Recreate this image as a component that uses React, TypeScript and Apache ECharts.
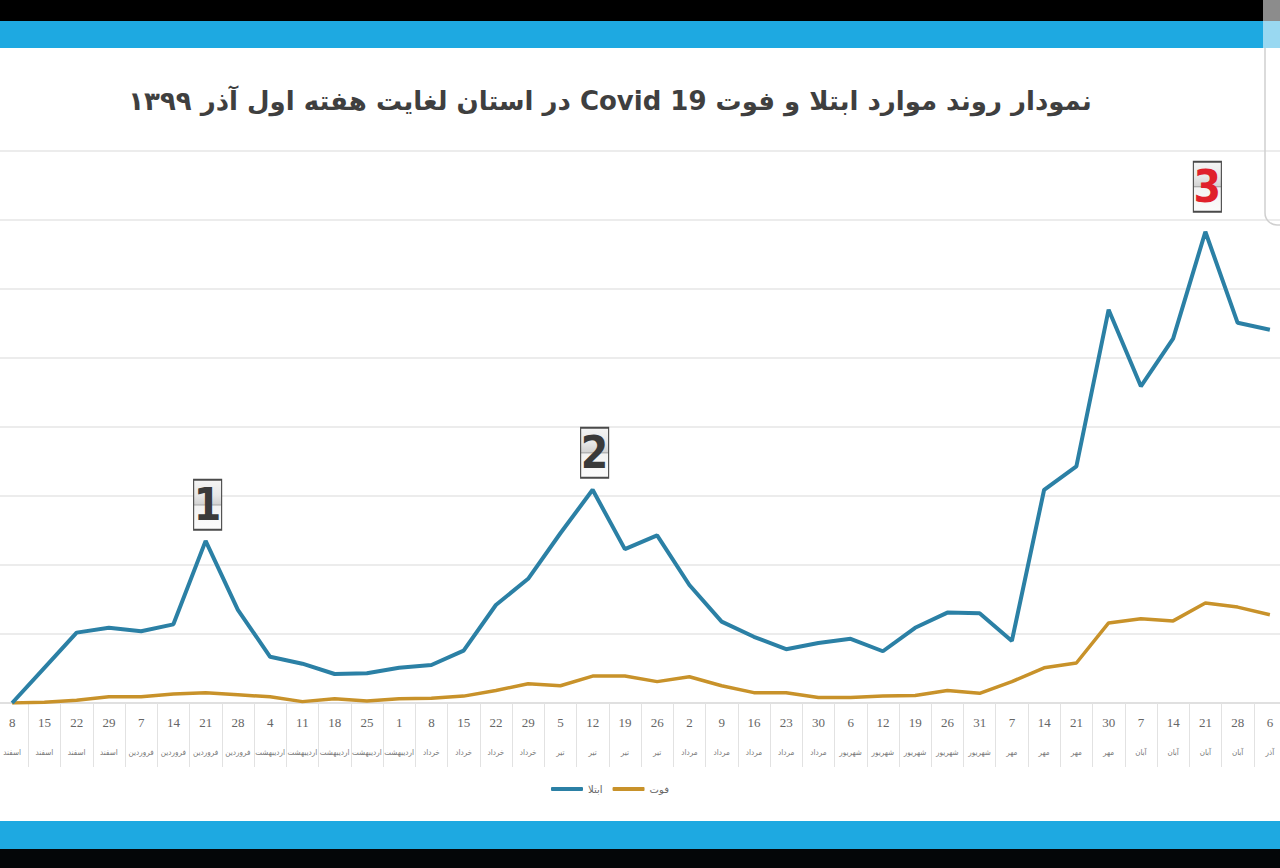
import React, { useEffect, useRef } from "react";
import * as echarts from "echarts";

const days = [8, 15, 22, 29, 7, 14, 21, 28, 4, 11, 18, 25, 1, 8, 15, 22, 29, 5, 12, 19, 26, 2, 9, 16, 23, 30, 6, 12, 19, 26, 31, 7, 14, 21, 30, 7, 14, 21, 28, 6];
const months = [
  "اسفند", "اسفند", "اسفند", "اسفند",
  "فروردین", "فروردین", "فروردین", "فروردین",
  "اردیبهشت", "اردیبهشت", "اردیبهشت", "اردیبهشت", "اردیبهشت",
  "خرداد", "خرداد", "خرداد", "خرداد",
  "تیر", "تیر", "تیر", "تیر",
  "مرداد", "مرداد", "مرداد", "مرداد", "مرداد",
  "شهریور", "شهریور", "شهریور", "شهریور", "شهریور",
  "مهر", "مهر", "مهر", "مهر",
  "آبان", "آبان", "آبان", "آبان",
  "آذر",
];
const infected = [0, 51, 102, 109, 104, 114, 235, 135, 67, 57, 42, 43, 51, 55, 76, 142, 180, 246, 309, 223, 243, 171, 118, 96, 78, 87, 93, 75, 109, 131, 130, 90, 309, 343, 570, 459, 528, 683, 551, 541];
const deaths = [0, 1, 4, 9, 9, 13, 15, 12, 9, 2, 6, 3, 6, 7, 10, 18, 28, 25, 39, 39, 31, 38, 25, 15, 15, 8, 8, 10, 11, 18, 14, 31, 51, 58, 116, 122, 119, 145, 139, 128];
const peakIndex = [6, 18, 37];
const peakLabels = ["1", "2", "3"];
const seriesNames = ["ابتلا", "فوت"];
const titleText = "نمودار روند موارد ابتلا و فوت Covid 19 در استان لغایت هفته اول آذر ۱۳۹۹";

export default function App() {
  const ref = useRef<HTMLDivElement>(null);
  useEffect(() => {
    if (!ref.current) return;
    const chart = echarts.init(ref.current, null, { renderer: "svg" });
    const categories = days.map((d, i) => `${d} ${months[i]}`);
    const boxFill = {
      type: "linear", x: 0, y: 0, x2: 0, y2: 1,
      colorStops: [
        { offset: 0, color: "#f5f5f5" },
        { offset: 0.3, color: "#e8e8e8" },
        { offset: 0.49, color: "#d2d2d2" },
        { offset: 0.5, color: "#8a8a8a" },
        { offset: 0.52, color: "#f2f2f2" },
        { offset: 1, color: "#fbfbfb" },
      ],
    };
    const offsets = [[2, -36], [2, -37], [2, -45]];
    const markData = peakIndex.map((idx, k) => ({
      coord: [categories[idx], infected[idx]],
      value: peakLabels[k],
      symbol: "rect",
      symbolSize: [28, 50],
      symbolOffset: offsets[k],
      itemStyle: { color: boxFill, borderColor: "#4a4a4a", borderWidth: 1.5 },
      label: {
        show: true,
        position: "inside",
        formatter: peakLabels[k],
        fontSize: 44,
        fontWeight: "bold",
        fontFamily: "DejaVu Sans Condensed",
        color: k === 2 ? "#e0202b" : "#3a3a3a",
      },
    }));
    chart.setOption({
      animation: false,
      backgroundColor: "#ffffff",
      graphic: [
        { type: "rect", shape: { x: 0, y: 0, width: 1280, height: 21 }, style: { fill: "#000000" }, z: 100 },
        { type: "rect", shape: { x: 0, y: 21, width: 1280, height: 27 }, style: { fill: "#1ea9e1" }, z: 100 },
        { type: "rect", shape: { x: 0, y: 821, width: 1280, height: 28 }, style: { fill: "#1ea9e1" }, z: 100 },
        { type: "rect", shape: { x: 0, y: 849, width: 1280, height: 19 }, style: { fill: "#040608" }, z: 100 },
        { type: "rect", shape: { x: 1263, y: 0, width: 17, height: 48 }, style: { fill: "rgba(255,255,255,0.55)" }, z: 101 },
        { type: "rect", shape: { x: 1265, y: 30, width: 40, height: 195, r: 12 }, style: { fill: "none", stroke: "#cfcfcf", lineWidth: 1.5 }, z: 99 },
        {
          type: "text",
          x: 610,
          y: 101,
          style: {
            text: "\u202B" + titleText + "\u202C",
            fontSize: 26,
            fontWeight: "bold",
            fontFamily: "DejaVu Sans",
            fill: "#3f3f3f",
            align: "center",
            verticalAlign: "middle",
          },
        },
      ],
      legend: {
        data: seriesNames,
        left: 546,
        top: 779,
        icon: "roundRect",
        itemWidth: 32,
        itemHeight: 4,
        itemGap: 10,
        textStyle: { fontSize: 10, color: "#666", fontFamily: "DejaVu Sans" },
      },
      grid: { left: -4, right: -6, top: 151, bottom: 165, outerBoundsMode: "none", containLabel: false },
      xAxis: {
        type: "category",
        data: categories,
        boundaryGap: true,
        axisLine: { show: true, lineStyle: { color: "#dcdcdc", width: 1.5 } },
        axisTick: { show: true, length: 64, interval: 0, lineStyle: { color: "#e2e2e2", width: 1 } },
        axisLabel: {
          interval: 0,
          margin: 6,
          hideOverlap: false,
          formatter: (_v: string, i: number) => `{d|${days[i]}}\n{m|${months[i]}}`,
          rich: {
            d: { fontSize: 13, lineHeight: 26, color: "#666", fontFamily: "Liberation Serif" },
            m: { fontSize: 8, lineHeight: 34, color: "#777", fontFamily: "DejaVu Sans Condensed" },
          },
        },
      },
      yAxis: {
        type: "value",
        min: 0,
        max: 800,
        interval: 100,
        axisLabel: { show: false },
        axisLine: { show: false },
        axisTick: { show: false },
        splitLine: { lineStyle: { color: "#e6e6e6", width: 1.5 } },
      },
      series: [
        {
          name: seriesNames[0],
          type: "line",
          data: infected,
          symbol: "none",
          lineStyle: { color: "#2b80a5", width: 4 },
          itemStyle: { color: "#2b80a5" },
          z: 3,
          markPoint: { data: markData, z: 10 },
        },
        {
          name: seriesNames[1],
          type: "line",
          data: deaths,
          symbol: "none",
          lineStyle: { color: "#c8922a", width: 3.5 },
          itemStyle: { color: "#c8922a" },
          z: 2,
        },
      ],
    });
    return () => chart.dispose();
  }, []);
  return (
    <div style={{ position: "fixed", left: 0, top: 0, width: 1280, height: 868, overflow: "hidden", background: "#fff" }}>
      <div ref={ref} style={{ width: 1280, height: 868 }} />
    </div>
  );
}
